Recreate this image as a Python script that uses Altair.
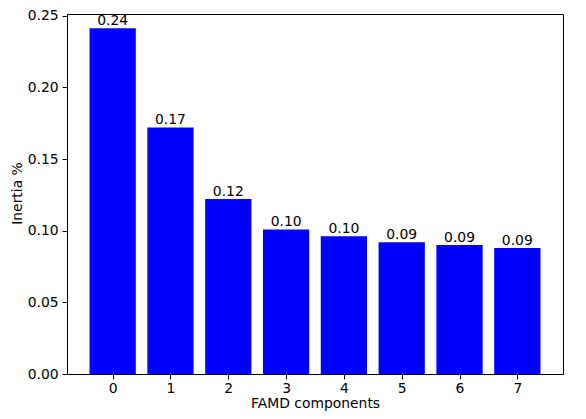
import altair as alt
import pandas as pd

components = [0, 1, 2, 3, 4, 5, 6, 7]
inertia = [0.2413, 0.1721, 0.1221, 0.1009, 0.0961, 0.0920, 0.0900, 0.0879]
y_ticks = [0, 0.05, 0.10, 0.15, 0.20, 0.25]

df = pd.DataFrame({"component": components, "inertia": inertia})
df["label"] = [f"{v:.2f}" for v in inertia]

FONT = "DejaVu Sans"
FS = 13.9

PLOT_H = 360

xscale = alt.Scale(domain=[-0.79, 7.79], nice=False, zero=False)
yscale = alt.Scale(domain=[0, 0.2513], nice=False)

base = alt.Chart(df).transform_calculate(
    x0="datum.component - 0.4", x1="datum.component + 0.4"
)

bars = base.mark_rect(color="#0000ff").encode(
    x=alt.X("x0:Q", scale=xscale,
            axis=alt.Axis(values=components, title="FAMD components", format="d",
                          grid=False, tickSize=4.9, labelPadding=3,
                          titleBaseline="bottom", titleY=36.5,
                          domainColor="black", tickColor="black",
                          labelColor="black", titleColor="black")),
    x2="x1:Q",
    y=alt.Y("inertia:Q", scale=yscale,
            axis=alt.Axis(values=y_ticks, format=".2f",
                          title="Inertia %", grid=False, tickSize=4.9, labelPadding=4,
                          titleAngle=-90, titleBaseline="alphabetic",
                          titleX=-46, titleY=PLOT_H / 2 - 1,
                          domainColor="black", tickColor="black",
                          labelColor="black", titleColor="black")),
    y2=alt.datum(0),
)

text = base.mark_text(baseline="bottom", align="center", font=FONT, fontSize=FS,
                      color="black", dy=0).encode(
    x=alt.X("component:Q", scale=xscale),
    y=alt.Y("inertia:Q", scale=yscale),
    text="label:N",
)

chart = alt.layer(bars, text).properties(
    width=496, height=PLOT_H,
    autosize=alt.AutoSizeParams(type="none"),
    padding={"left": 59, "top": 6, "right": 15, "bottom": 37},
).configure_view(stroke="black", strokeWidth=1).configure_axis(
    labelFont=FONT, titleFont=FONT, labelFontSize=FS, titleFontSize=FS,
    titleFontWeight="normal", domainWidth=1, tickWidth=1
)

chart.save("out.html", embed_options={"renderer": "svg", "actions": False})
